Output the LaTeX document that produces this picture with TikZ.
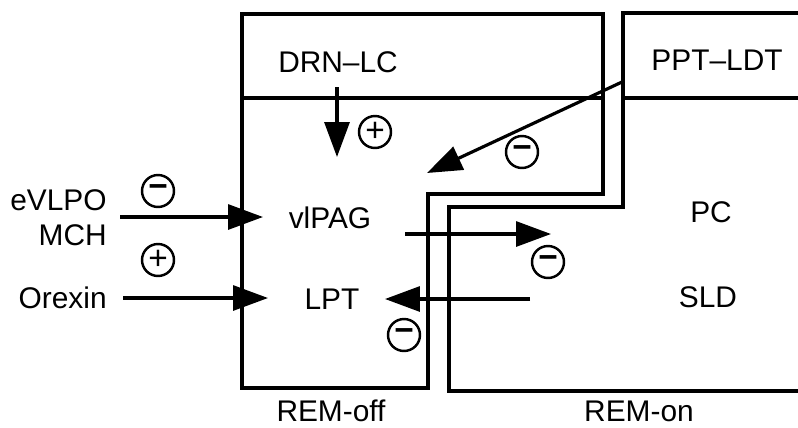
\documentclass[tikz,border=0pt]{standalone}
\usepackage{fontspec}
\setmainfont{Liberation Sans}
\usetikzlibrary{arrows.meta, positioning}

\tikzset{
  box/.style={line width=2pt, line join=miter},
  lbl/.style={font=\fontsize{17}{20}\selectfont, inner sep=0pt,
    text height=12.2pt, text depth=0pt},
  sign/.style={draw, circle, line width=1.4pt, minimum size=0.64cm,
    inner sep=0pt, font=\fontsize{19}{19}\selectfont},
  arr/.style={line width=1.8pt, -{Triangle[length=0.7cm, width=0.5cm]}},
}

\begin{document}
\begin{tikzpicture}[x=0.02cm, y=-0.02cm]
  \useasboundingbox (0,0) rectangle (798,427);

  % REM-off region (stepped outline with top compartment)
  \draw[box] (242,14) -- (603,14) -- (603,194) -- (428,194) -- (428,388)
    -- (242,388) -- cycle;
  \draw[box] (242,98) -- (603,98);

  % REM-on region, running off the right edge
  \draw[box] (798,13) -- (623,13) -- (623,207) -- (449,207) -- (449,391)
    -- (798,391);
  \draw[box] (623,98) -- (798,98);

  % nuclei
  \node[lbl] (drnlc) at (338,62) {DRN–LC};
  \node[lbl] (pptldt) at (717,60) {PPT–LDT};
  \node[lbl] (vlpag) at (330,218) {vlPAG};
  \node[lbl] (lpt) at (332,299) {LPT};
  \node[lbl] (pc) at (711,212) {PC};
  \node[lbl] (sld) at (708,297) {SLD};
  \node[lbl, anchor=east] (evlpo) at (107,200) {eVLPO};
  \node[lbl, anchor=east] (mch) at (107,235) {MCH};
  \node[lbl, anchor=east] (orexin) at (107,298) {Orexin};
  \node[lbl] (remoff) at (331,411) {REM-off};
  \node[lbl] (remon) at (639,411) {REM-on};

  % arrow end points
  \coordinate (drnout) at (337,87);
  \coordinate (drnin) at (337,157);
  \coordinate (pptout) at (622,82);
  \coordinate (pptin) at (427,173);
  \coordinate (evlpoout) at (120,217);
  \coordinate (evlpoin) at (263,217);
  \coordinate (orexinout) at (123,298);
  \coordinate (orexinin) at (268,298);
  \coordinate (vlpagout) at (405,234);
  \coordinate (vlpagin) at (551,234);
  \coordinate (sldout) at (530,299);
  \coordinate (sldin) at (385,299);

  \draw[arr] (drnout) -- (drnin);
  \draw[arr] (pptout) -- (pptin);
  \draw[arr] (evlpoout) -- (evlpoin);
  \draw[arr] (orexinout) -- (orexinin);
  \draw[arr] (vlpagout) -- (vlpagin);
  \draw[arr] (sldout) -- (sldin);

  % excitatory / inhibitory marks
  \node[sign] (s1) at (375,132) {+};
  \node[sign] (s2) at (158,191) {\bfseries −};
  \node[sign] (s3) at (158,260) {+};
  \node[sign] (s4) at (522,152) {\bfseries −};
  \node[sign] (s5) at (548,262) {\bfseries −};
  \node[sign] (s6) at (404,335) {\bfseries −};
\end{tikzpicture}
\end{document}
